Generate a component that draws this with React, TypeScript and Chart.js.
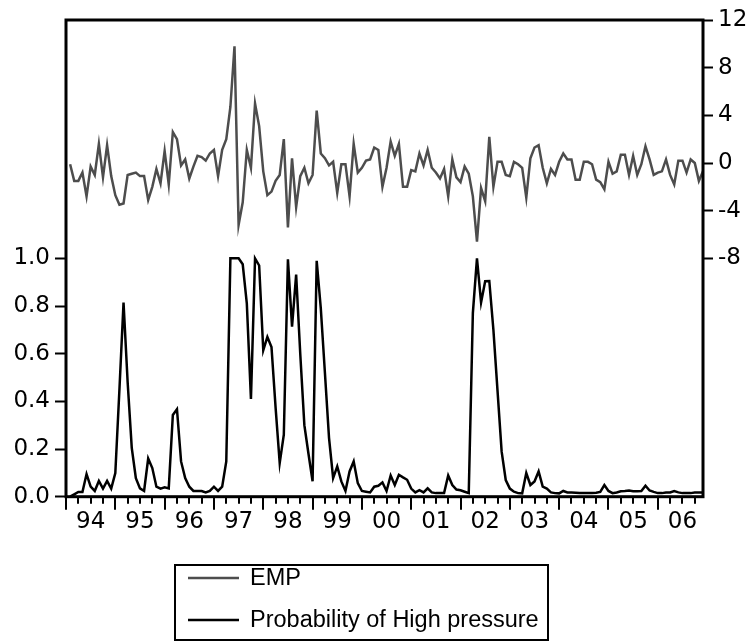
import React, { useEffect, useRef } from 'react';
import { Chart, registerables } from 'chart.js';

Chart.register(...registerables);

// Monthly observations, 1994M02 .. 2006M12 (month index 1 = Feb 1994, axis starts Jan 1994 = 0)
const empValues = [
  -0.1, -1.5, -1.5, -0.8, -2.8, -0.3, -1.0, 1.6, -1.2, 1.5, -1.1, -2.7,
  -3.5, -3.4, -1.0, -0.9, -0.8, -1.1, -1.1, -3.1, -2.0, -0.5, -1.7, 1.0,
  -1.8, 2.6, 2.0, -0.2, 0.3, -1.3, -0.3, 0.6, 0.5, 0.2, 0.8, 1.1,
  -1.1, 1.1, 2.0, 4.7, 9.8, -5.2, -3.3, 1.1, -0.4, 5.0, 3.1, -0.7,
  -2.7, -2.4, -1.5, -1.0, 2.0, -5.4, 0.4, -3.7, -1.1, -0.4, -1.7, -1.0,
  4.4, 0.8, 0.4, -0.2, 0.1, -2.5, -0.1, -0.1, -2.8, 1.6, -0.8, -0.4,
  0.2, 0.3, 1.3, 1.1, -2.0, -0.4, 1.8, 0.6, 1.6, -2.0, -2.0, -0.6,
  -0.7, 0.8, -0.2, 1.1, -0.4, -0.8, -1.3, -0.5, -2.8, 0.3, -1.2, -1.6,
  -0.3, -0.9, -2.8, -6.6, -2.1, -3.2, 2.2, -2.0, 0.1, 0.1, -1.0, -1.1,
  0.1, -0.1, -0.4, -2.9, 0.4, 1.3, 1.5, -0.4, -1.7, -0.5, -1.0, 0.1,
  0.8, 0.3, 0.3, -1.4, -1.4, 0.1, 0.1, -0.1, -1.4, -1.6, -2.2, 0.1,
  -0.9, -0.7, 0.7, 0.7, -1.0, 0.6, -1.0, -0.1, 1.4, 0.3, -1.0, -0.8,
  -0.7, 0.3, -1.0, -1.8, 0.2, 0.2, -0.8, 0.3, 0.0, -1.5, -0.7,
];

const probValues = [
  0.0, 0.01, 0.02, 0.02, 0.095, 0.042, 0.024, 0.066, 0.034, 0.066, 0.034, 0.099,
  0.45, 0.815, 0.48, 0.205, 0.078, 0.035, 0.024, 0.16, 0.12, 0.042, 0.034, 0.039,
  0.035, 0.343, 0.367, 0.148, 0.078, 0.042, 0.024, 0.024, 0.024, 0.018, 0.024, 0.042,
  0.024, 0.042, 0.148, 1.0, 1.0, 1.0, 0.975, 0.81, 0.41, 1.0, 0.97, 0.614,
  0.67, 0.628, 0.374, 0.141, 0.26, 0.996, 0.713, 0.932, 0.6, 0.3, 0.18, 0.065,
  0.99, 0.79, 0.52, 0.247, 0.078, 0.127, 0.064, 0.024, 0.106, 0.148, 0.057, 0.024,
  0.021, 0.018, 0.042, 0.046, 0.06, 0.024, 0.089, 0.049, 0.092, 0.081, 0.071, 0.034,
  0.018, 0.027, 0.018, 0.035, 0.018, 0.015, 0.015, 0.015, 0.089, 0.049, 0.03, 0.027,
  0.021, 0.015, 0.77, 1.0, 0.815, 0.904, 0.905, 0.7, 0.445, 0.19, 0.07, 0.034,
  0.021, 0.015, 0.014, 0.099, 0.049, 0.064, 0.106, 0.042, 0.034, 0.018, 0.015, 0.014,
  0.024, 0.018, 0.018, 0.017, 0.016, 0.016, 0.016, 0.016, 0.017, 0.02, 0.049, 0.024,
  0.015, 0.018, 0.023, 0.024, 0.026, 0.023, 0.023, 0.024, 0.046, 0.026, 0.02, 0.015,
  0.015, 0.018, 0.018, 0.024, 0.018, 0.015, 0.015, 0.015, 0.018, 0.018, 0.018,
];

const yearLabels = ['94', '95', '96', '97', '98', '99', '00', '01', '02', '03', '04', '05', '06'];
const leftTicks = [0, 0.2, 0.4, 0.6, 0.8, 1.0];
const rightTicks = [-8, -4, 0, 4, 8, 12];

const TICK_FONT = '"DejaVu Sans", "Liberation Sans", Arial, sans-serif';
const TICK_SIZE = 23;
const LEGEND_FONT = '"Liberation Sans", Arial, sans-serif';
const LEGEND_SIZE = 23.5;

const framePlugin = {
  id: 'evFrame',
  afterDraw(chart: any) {
    const { ctx, chartArea: a, scales } = chart;
    ctx.save();
    ctx.strokeStyle = '#000';
    ctx.lineWidth = 3;
    ctx.strokeRect(a.left, a.top, a.right - a.left, a.bottom - a.top);

    // x-axis tick marks: major at years, minor at quarters
    const xs = scales.x;
    ctx.lineWidth = 2;
    for (let m = 0; m <= xs.max; m += 3) {
      const px = Math.round(xs.getPixelForValue(m));
      const len = m % 12 === 0 ? 13 : 7;
      ctx.beginPath();
      ctx.moveTo(px, a.bottom);
      ctx.lineTo(px, a.bottom + len);
      ctx.stroke();
    }

    // boxed legend
    const lx = 175, ly = 565, lw = 373, lh = 75;
    ctx.lineWidth = 2;
    ctx.strokeRect(lx, ly, lw, lh);
    ctx.font = `${LEGEND_SIZE}px ${LEGEND_FONT}`;
    ctx.textBaseline = 'middle';
    ctx.textAlign = 'left';
    chart.data.datasets.forEach((ds: any, k: number) => {
      const cy = 578 + k * 42;
      ctx.strokeStyle = ds.borderColor;
      ctx.lineWidth = 2.5;
      ctx.beginPath();
      ctx.moveTo(188, cy);
      ctx.lineTo(239, cy);
      ctx.stroke();
      ctx.fillStyle = '#000';
      ctx.fillText(ds.label, 250, cy + 1);
    });
    ctx.restore();
  },
};

export default function App() {
  const ref = useRef<HTMLCanvasElement | null>(null);

  useEffect(() => {
    if (!ref.current) return;
    const empData = empValues.map((v, i) => ({ x: i + 1, y: v }));
    const probData = probValues.map((v, i) => ({ x: i + 1, y: v }));
    const chart = new Chart(ref.current, {
      type: 'line',
      data: {
        datasets: [
          {
            label: 'EMP',
            data: empData,
            yAxisID: 'y1',
            borderColor: '#4d4d4d',
            borderWidth: 2.5,
            pointRadius: 0,
            tension: 0,
          },
          {
            label: 'Probability of High pressure',
            data: probData,
            yAxisID: 'y',
            borderColor: '#000000',
            borderWidth: 2.5,
            pointRadius: 0,
            tension: 0,
          },
        ],
      },
      options: {
        animation: false,
        responsive: false,
        events: [],
        layout: { padding: { top: 20, left: 0, right: 0, bottom: 0 } },
        plugins: {
          legend: { display: false },
          tooltip: { enabled: false },
        },
        scales: {
          x: {
            type: 'linear',
            min: 0,
            max: 155,
            grid: { display: false, drawTicks: true, tickLength: 12 },
            border: { display: false },
            afterBuildTicks: (s: any) => {
              s.ticks = yearLabels.map((_, k) => ({ value: 6 + 12 * k }));
            },
            afterFit: (s: any) => {
              s.height = 145.3;
            },
            ticks: {
              autoSkip: false,
              maxRotation: 0,
              padding: 0,
              color: '#000',
              font: { family: TICK_FONT, size: TICK_SIZE },
              callback: (v: any) => yearLabels[Math.round((Number(v) - 6) / 12)] ?? '',
            },
          },
          y: {
            type: 'linear',
            position: 'left',
            min: 0,
            max: 2,
            grid: { drawOnChartArea: false, tickLength: 11, tickWidth: 2, tickColor: '#000' },
            border: { display: false },
            afterBuildTicks: (s: any) => {
              s.ticks = leftTicks.map((v) => ({ value: v }));
            },
            afterFit: (s: any) => {
              s.width = 66;
            },
            ticks: {
              padding: 5,
              color: '#000',
              font: { family: TICK_FONT, size: TICK_SIZE },
              callback: (v: any) => Number(v).toFixed(1),
            },
          },
          y1: {
            type: 'linear',
            position: 'right',
            min: -28,
            max: 12,
            grid: { drawOnChartArea: false, tickLength: 10, tickWidth: 2, tickColor: '#000' },
            border: { display: false },
            afterBuildTicks: (s: any) => {
              s.ticks = rightTicks.map((v) => ({ value: v }));
            },
            afterFit: (s: any) => {
              s.width = 49;
            },
            ticks: {
              padding: 5,
              color: '#000',
              font: { family: TICK_FONT, size: TICK_SIZE },
              callback: (v: any) => String(v),
            },
          },
        },
      },
      plugins: [framePlugin],
    });
    return () => chart.destroy();
  }, []);

  return (
    <div style={{ position: 'absolute', left: 0, top: 0, width: 752, height: 642, background: '#fff' }}>
      <canvas ref={ref} width={752} height={642} />
    </div>
  );
}
